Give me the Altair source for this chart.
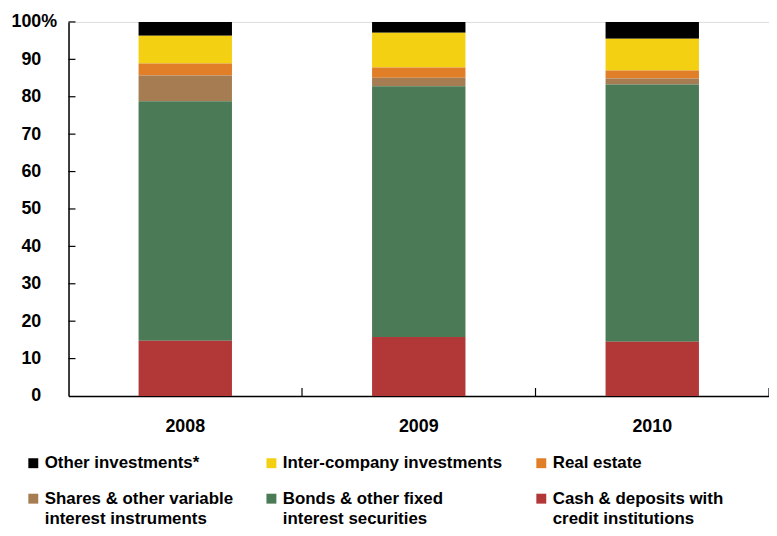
import altair as alt
import pandas as pd

years = ["2008", "2009", "2010"]
categories = [
    "Other investments*",
    "Inter-company investments",
    "Real estate",
    "Shares & other variable\ninterest instruments",
    "Bonds & other fixed\ninterest securities",
    "Cash & deposits with\ncredit institutions",
]
colors = ["#000000", "#F4D012", "#E07F27", "#A67C52", "#4B7A56", "#B23838"]
stack_rank = [5, 4, 3, 2, 1, 0]  # 0 = bottom of stack

other = [3.7, 2.9, 4.5]
inter = [7.4, 9.3, 8.5]
real = [3.2, 2.7, 2.1]
shares = [6.9, 2.3, 1.6]
bonds = [64.0, 67.0, 68.8]
cash = [14.8, 15.8, 14.5]
series = [other, inter, real, shares, bonds, cash]

y_ticks = [10, 20, 30, 40, 50, 60, 70, 80, 90, 100]

rows = []
for cat, rank, vals in zip(categories, stack_rank, series):
    for yr, v in zip(years, vals):
        rows.append({"year": yr, "cat": cat, "rank": rank, "value": v})
df = pd.DataFrame(rows)
tick_df = pd.DataFrame({"v": y_ticks})
xb_df = pd.DataFrame({"year": years})

FONT = "Liberation Sans"
W, H = 706, 377
STEP = W / 3

x_scale = alt.Scale(domain=years, paddingInner=0.6, paddingOuter=0.3)
y_scale = alt.Scale(domain=[0, 100], nice=False)

x_axis = alt.Axis(
    title=None, labelAngle=0, ticks=False, labelPadding=22,
    labelFontSize=18, labelFont=FONT, labelFontWeight="bold",
    labelColor="#000", domainColor="#000", domainWidth=1.5)
y_axis = alt.Axis(
    title=None, values=[0] + y_ticks, ticks=False, grid=False,
    labelOverlap=False, tickCount=11,
    labelExpr="datum.value == 100 ? '100%' : datum.label",
    labelPadding={"condition": {"test": "datum.value == 100", "value": 12}, "value": 28},
    labelFontSize=18, labelFont=FONT, labelFontWeight="bold",
    labelColor="#000", domainColor="#000", domainWidth=1.5)

bars = alt.Chart(df).mark_bar(strokeWidth=0).encode(
    x=alt.X("year:N", scale=x_scale, axis=x_axis),
    y=alt.Y("value:Q", stack="zero", scale=y_scale, axis=y_axis),
    color=alt.Color("cat:N", scale=alt.Scale(domain=categories, range=colors),
                    legend=alt.Legend(
                        title=None, orient="none", legendX=-44, legendY=436,
                        direction="horizontal", padding=0,
                        columns=3, columnPadding=30, rowPadding=18,
                        symbolType="square", symbolSize=100, symbolStrokeWidth=0,
                        labelFontSize=17, labelFont=FONT, labelFontWeight="bold",
                        labelColor="#000", labelLimit=400, labelOffset=3,
                        labelExpr="split(datum.label, '\\n')")),
    order=alt.Order("rank:Q", sort="ascending"),
)

ytick_rules = alt.Chart(tick_df).mark_rule(color="#000", strokeWidth=1.2).encode(
    x=alt.value(0), x2=alt.value(7), y=alt.Y("v:Q", scale=y_scale, axis=y_axis))

xtick_rules = alt.Chart(xb_df).mark_rule(
    color="#000", strokeWidth=1.2, xOffset=0.3 * STEP).encode(
    x=alt.X("year:N", scale=x_scale, bandPosition=1, axis=x_axis),
    y=alt.value(H), y2=alt.value(H - 8))

chart = alt.layer(bars, ytick_rules, xtick_rules).properties(
    width=W, height=H,
    autosize=alt.AutoSizeParams(type="none"),
    padding={"left": 61, "top": 12, "right": 0, "bottom": 131},
).configure_view(stroke=None).configure(
    style={"guide-label": {"lineHeight": 21}})

chart.save("out.html", embed_options={"renderer": "svg", "actions": False})
